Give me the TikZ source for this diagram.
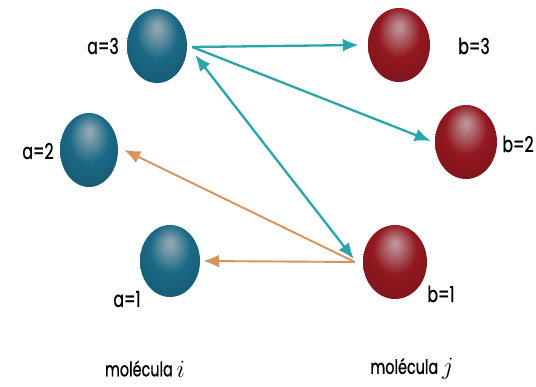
\documentclass[tikz,border=0pt]{standalone}
\usepackage{fontspec}
\setmainfont{Poppins}[FakeStretch=0.72,FakeBold=0.8]
\usetikzlibrary{arrows.meta,shapes.geometric}
\definecolor{bhl}{HTML}{8FA6B0}
\definecolor{bmid}{HTML}{1A6986}
\definecolor{bdark}{HTML}{0A3443}
\definecolor{rhl}{HTML}{BB9095}
\definecolor{rmid}{HTML}{931820}
\definecolor{rdark}{HTML}{42070B}
\definecolor{tealarr}{HTML}{2BA5AC}
\definecolor{orangearr}{HTML}{D8925E}
\pgfdeclareradialshading{bluesph}{\pgfpoint{0bp}{13bp}}{color(0bp)=(bhl); color(2bp)=(bhl); color(17bp)=(bmid); color(30bp)=(bmid!88!black); color(36bp)=(bdark); color(50bp)=(bdark)}
\pgfdeclareradialshading{redsph}{\pgfpoint{0bp}{13bp}}{color(0bp)=(rhl); color(2bp)=(rhl); color(17bp)=(rmid); color(30bp)=(rmid!88!black); color(36bp)=(rdark); color(50bp)=(rdark)}
\tikzset{
  sphere/.style={ellipse, shade, minimum width=60pt, minimum height=74pt, inner sep=0pt},
  bluesphere/.style={sphere, shading=bluesph},
  redsphere/.style={sphere, shading=redsph},
  lbl/.style={font=\fontsize{22}{22}\selectfont, inner sep=0pt},
  caption/.style={font=\fontsize{20}{20}\selectfont, inner sep=0pt},
  tip/.tip={Latex[length=16pt,width=13pt]},
  tealline/.style={draw=tealarr, line width=2.3pt, -tip},
  tealdouble/.style={draw=tealarr, line width=2.3pt, tip-tip},
  orangeline/.style={draw=orangearr, line width=1.9pt, -tip}
}
\begin{document}
\begin{tikzpicture}[x=1pt,y=-1pt]
\useasboundingbox[fill=white] (0,0) rectangle (536,387);
% spheres
\node[bluesphere] (a3) at (157,46) {};
\node[bluesphere, minimum width=58pt] (a2) at (89,150) {};
\node[bluesphere, minimum height=72pt] (a1) at (170,261) {};
\node[redsphere, minimum width=62pt] (b3) at (399,45) {};
\node[redsphere, minimum width=62pt] (b2) at (466,142) {};
\node[redsphere, minimum width=64pt] (b1) at (395,262) {};
% labels
\node[lbl] (la3) at (103,46) {a=3};
\node[lbl] (la2) at (38,151) {a=2};
\node[lbl] (la1) at (127,299) {a=1};
\node[lbl] (lb3) at (474,46) {b=3};
\node[lbl] (lb2) at (518,144) {b=2};
\node[lbl] (lb1) at (441,294) {b=1};
\node[caption] (mi) at (145,369) {molécula \raisebox{-1pt}{\fontsize{25}{25}\selectfont$i$}};
\node[caption] (mj) at (412,369) {molécula \raisebox{-1pt}{\fontsize{25}{25}\selectfont$j$}};
% connectors
\coordinate (hub) at ([xshift=-8pt]b1.west);
\coordinate (a3out) at ([shift={(5,1)}]a3.east);
\coordinate (a3in) at ([shift={(8,9)}]a3.east);
\draw[tealline] (a3out) -- ([xshift=-9pt]b3.west);
\draw[tealline] (a3out) -- ([xshift=-4pt,yshift=1pt]b2.west);
\draw[tealdouble] (a3in) -- ([shift={(-1,-3)}]hub);
\draw[orangeline] (hub) -- ([xshift=6pt]a2.east);
\draw[orangeline] (hub) -- ([xshift=3pt]a1.east);
\end{tikzpicture}
\end{document}
